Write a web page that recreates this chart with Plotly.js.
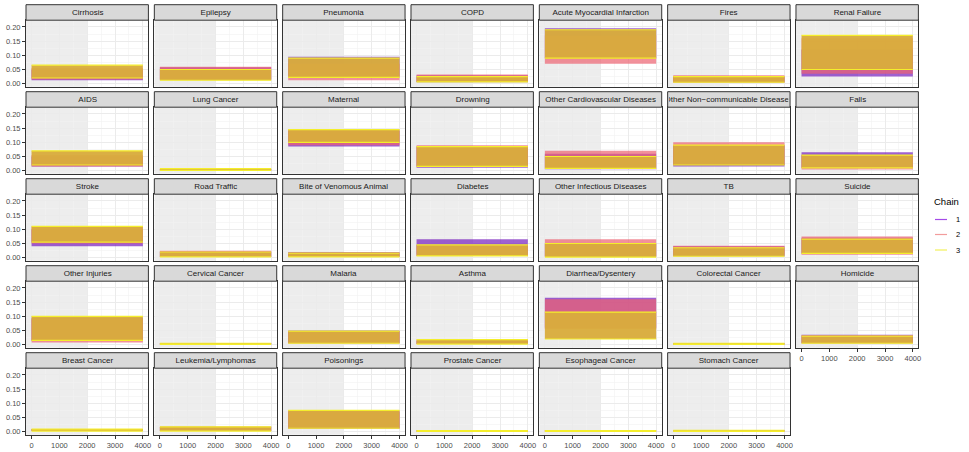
<!DOCTYPE html>
<html><head><meta charset="utf-8">
<script src="https://cdn.plot.ly/plotly-3.0.1.min.js"></script>
<style>html,body{margin:0;padding:0;background:#fff}#chart{width:969px;height:452px}</style>
</head><body><div id="chart"></div>
<script>
// ---- data ----
const causes = [
  "Cirrhosis","Epilepsy","Pneumonia","COPD","Acute Myocardial Infarction","Fires","Renal Failure",
  "AIDS","Lung Cancer","Maternal","Drowning","Other Cardiovascular Diseases","Other Non\u2212communicable Diseases","Falls",
  "Stroke","Road Traffic","Bite of Venomous Animal","Diabetes","Other Infectious Diseases","TB","Suicide",
  "Other Injuries","Cervical Cancer","Malaria","Asthma","Diarrhea/Dysentery","Colorectal Cancer","Homicide",
  "Breast Cancer","Leukemia/Lymphomas","Poisonings","Prostate Cancer","Esophageal Cancer","Stomach Cancer"
];
const chainNames = ["1","2","3"];
// range of sampled values for each chain, per cause
const chain1Low  = [0.012,0.015,0.025,0.005,0.090,0.004,0.025, 0.015,0.001,0.085,0.010,0.005,0.015,0.010, 0.040,0.003,0.003,0.010,0.005,0.005,0.015, 0.015,0.001,0.005,0.002,0.060,0.001,0.005, 0.002,0.002,0.010,0.001,0.001,0.001];
const chain1High = [0.050,0.058,0.095,0.030,0.195,0.025,0.120, 0.050,0.006,0.140,0.085,0.060,0.090,0.065, 0.100,0.022,0.020,0.065,0.050,0.040,0.070, 0.095,0.005,0.050,0.014,0.165,0.005,0.035, 0.009,0.017,0.070,0.004,0.004,0.005];
const chain2Low  = [0.015,0.015,0.012,0.006,0.070,0.004,0.035, 0.015,0.001,0.090,0.015,0.010,0.020,0.004, 0.050,0.003,0.003,0.006,0.005,0.010,0.010, 0.008,0.001,0.005,0.002,0.055,0.001,0.005, 0.002,0.002,0.012,0.001,0.001,0.001];
const chain2High = [0.055,0.060,0.070,0.032,0.170,0.030,0.160, 0.055,0.006,0.145,0.090,0.070,0.100,0.055, 0.110,0.024,0.018,0.045,0.065,0.042,0.075, 0.090,0.005,0.048,0.015,0.160,0.005,0.033, 0.009,0.017,0.075,0.004,0.004,0.005];
const chain3Low  = [0.020,0.012,0.022,0.006,0.090,0.005,0.050, 0.020,0.001,0.100,0.015,0.008,0.020,0.010, 0.055,0.003,0.003,0.006,0.002,0.005,0.015, 0.015,0.001,0.005,0.002,0.020,0.001,0.005, 0.002,0.002,0.012,0.001,0.001,0.001];
const chain3High = [0.065,0.050,0.090,0.025,0.190,0.025,0.170, 0.070,0.007,0.145,0.085,0.050,0.090,0.055, 0.110,0.020,0.016,0.045,0.050,0.035,0.065, 0.100,0.005,0.048,0.018,0.115,0.005,0.030, 0.009,0.017,0.075,0.004,0.004,0.005];
const iterations = [0, 4000];
const warmupEnd = 2000;
const xTickVals = [0, 1000, 2000, 3000, 4000];
const yTickVals = [0, 0.05, 0.10, 0.15, 0.20];

// ---- layout geometry / styling ----
const W = 969, H = 452, nCols = 7;
const colLeft0 = 26, colPitch = 128.33, panelW = 122.4;
const rowTop0 = 4.7, rowPitch = 87, stripH = 15.5, panelBottomOff = 82;
const xRange = [-200, 4200], yRange = [-0.0107, 0.2237];
const FONT = "Liberation Sans, Arial, Helvetica, sans-serif";
const chainFill = ["rgba(118,30,190,0.7)", "rgba(236,98,112,0.7)", "rgba(216,172,60,0.96)"];
const edgeColor = "#F4EE2C";
const legendColors = ["#A44BE8", "#F29C9C", "#F2F05A"];

const lows = [chain1Low, chain2Low, chain3Low];
const highs = [chain1High, chain2High, chain3High];

const traces = [];
const layout = {
  width: W, height: H, autosize: false,
  margin: {l: 0, r: 0, t: 0, b: 0, pad: 0},
  paper_bgcolor: "#fff", plot_bgcolor: "#fff",
  font: {family: FONT, color: "#4D4D4D"},
  showlegend: false,
  shapes: [], annotations: []
};

const n = causes.length;
causes.forEach((cause, i) => {
  const r = Math.floor(i / nCols), c = i % nCols;
  const ax = i === 0 ? "" : String(i + 1);
  const L = colLeft0 + c * colPitch, R = L + panelW;
  const stripTop = rowTop0 + r * rowPitch;
  const pTop = stripTop + stripH, pBot = stripTop + panelBottomOff;
  const bottomPanel = i + nCols >= n;
  const leftPanel = c === 0;

  layout["xaxis" + ax] = {
    domain: [L / W, R / W], range: xRange, anchor: "y" + ax,
    showline: true, mirror: true, linecolor: "#333333", linewidth: 1,
    showgrid: true, gridcolor: "#EBEBEB", gridwidth: 1, zeroline: false,
    tickmode: "array", tickvals: xTickVals, ticktext: xTickVals.map(String),
    minor: {tick0: 0, dtick: 500, showgrid: true, gridcolor: "#F2F2F2", gridwidth: 0.6},
    showticklabels: bottomPanel, ticks: bottomPanel ? "outside" : "",
    ticklen: 3, tickwidth: 1, tickcolor: "#333333",
    tickfont: {size: 7.5, color: "#4D4D4D", family: FONT}, fixedrange: true
  };
  layout["yaxis" + ax] = {
    domain: [1 - pBot / H, 1 - pTop / H], range: yRange, anchor: "x" + ax,
    showline: true, mirror: true, linecolor: "#333333", linewidth: 1,
    showgrid: true, gridcolor: "#EBEBEB", gridwidth: 1, zeroline: false,
    tickmode: "array", tickvals: yTickVals, ticktext: yTickVals.map(v => v.toFixed(2)),
    minor: {tick0: 0, dtick: 0.025, showgrid: true, gridcolor: "#F2F2F2", gridwidth: 0.6},
    showticklabels: leftPanel, ticks: leftPanel ? "outside" : "",
    ticklen: 3, tickwidth: 1, tickcolor: "#333333",
    tickfont: {size: 7.5, color: "#4D4D4D", family: FONT}, fixedrange: true
  };

  // warmup shading
  layout.shapes.push({
    type: "rect", xref: "x" + ax, yref: "y" + ax + " domain",
    x0: xRange[0], x1: warmupEnd, y0: 0, y1: 1,
    fillcolor: "#EDEDED", line: {width: 0}, layer: "below"
  });
  // strip
  layout.shapes.push({
    type: "rect", xref: "paper", yref: "paper",
    x0: L / W, x1: R / W, y0: 1 - pTop / H, y1: 1 - stripTop / H,
    fillcolor: "#D9D9D9", line: {color: "#333333", width: 1}, layer: "above"
  });
  layout.annotations.push({
    xref: "paper", yref: "paper", x: (L + R) / 2 / W, y: 1 - (stripTop + stripH / 2) / H,
    xanchor: "center", yanchor: "middle", showarrow: false,
    text: cause, width: panelW - 3, align: "center",
    font: {size: 8, color: "#1A1A1A", family: FONT}
  });

  // chains
  chainNames.forEach((ch, k) => {
    const lo = lows[k][i], hi = highs[k][i];
    traces.push({
      type: "scatter", mode: "lines", name: ch,
      x: [iterations[0], iterations[1], iterations[1], iterations[0], iterations[0]],
      y: [lo, lo, hi, hi, lo],
      fill: "toself", fillcolor: chainFill[k],
      line: {width: 0, color: chainFill[k]},
      xaxis: "x" + ax, yaxis: "y" + ax, hoverinfo: "skip", showlegend: false
    });
  });
  // bright yellow edges of chain 3 (its extreme draws)
  [chain3High[i], chain3Low[i]].forEach(v => {
    traces.push({
      type: "scatter", mode: "lines",
      x: [iterations[0], iterations[1]], y: [v, v],
      line: {color: edgeColor, width: 1.2},
      xaxis: "x" + ax, yaxis: "y" + ax, hoverinfo: "skip", showlegend: false
    });
  });
});

// manual legend
layout.annotations.push({
  xref: "paper", yref: "paper", x: 932 / W, y: 1 - 202 / H,
  xanchor: "left", yanchor: "middle", showarrow: false, text: "Chain",
  font: {size: 9.5, color: "#000", family: FONT}
});
const legY = [219.5, 234.5, 250];
chainNames.forEach((ch, k) => {
  layout.shapes.push({
    type: "line", xref: "paper", yref: "paper",
    x0: 935 / W, x1: 947 / W, y0: 1 - legY[k] / H, y1: 1 - legY[k] / H,
    line: {color: legendColors[k], width: 1.2}
  });
  layout.annotations.push({
    xref: "paper", yref: "paper", x: 953.5 / W, y: 1 - legY[k] / H,
    xanchor: "left", yanchor: "middle", showarrow: false, text: ch,
    font: {size: 7.5, color: "#000", family: FONT}
  });
});

Plotly.newPlot("chart", traces, layout, {displayModeBar: false, staticPlot: true});
</script>
</body></html>
